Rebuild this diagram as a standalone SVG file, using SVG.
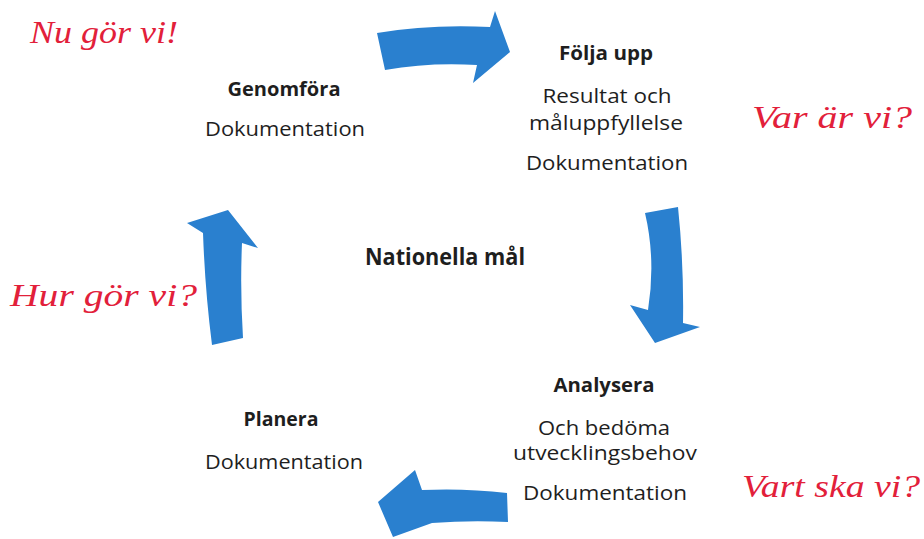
<svg xmlns="http://www.w3.org/2000/svg" width="924" height="539" viewBox="0 0 924 539">
<style>
.lbl{font-family:"Open Sans","Liberation Sans",sans-serif;font-size:20px;fill:#1e1e1e;text-anchor:middle}
.b{font-weight:bold}
.red{font-family:"Liberation Serif",serif;font-style:italic;font-size:32px;fill:#e2203a}
.arr{fill:#2a80cf}
</style>
<rect width="924" height="539" fill="#fff"/>
<g id="connectors">
<path class="arr" d="M377,33 Q430,24 490,27 L495,11 L510,52 L473,83 L477,65 Q430,62 385,70 Z"/>
<path class="arr" d="M645,213 L678,207 Q684,265 683,323 L700,327 L655,343 L630,305 L648,310 Q656,260 645,213 Z"/>
<path class="arr" d="M507,493 L508,522 Q470,520 432,523 L393,537 L378,502 L415,470 L422,490 Q465,488 507,493 Z"/>
<path class="arr" d="M228,210 L258,248 L242,243 Q240,290 243,338 L212,345 Q205,290 203,233 L187,223 Z"/>
</g>
<g id="genomfora">
<text class="lbl b" x="284" y="96" textLength="113" lengthAdjust="spacingAndGlyphs">Genomföra</text>
<text class="lbl" x="285" y="136" textLength="160" lengthAdjust="spacingAndGlyphs">Dokumentation</text>
</g>
<g id="folja">
<text class="lbl b" x="606" y="60" textLength="94" lengthAdjust="spacingAndGlyphs">Följa upp</text>
<text class="lbl" x="607" y="103" textLength="129" lengthAdjust="spacingAndGlyphs">Resultat och</text>
<text class="lbl" x="606" y="130" textLength="154" lengthAdjust="spacingAndGlyphs">måluppfyllelse</text>
<text class="lbl" x="607" y="170" textLength="162" lengthAdjust="spacingAndGlyphs">Dokumentation</text>
</g>
<g id="center">
<text class="lbl" x="445" y="265" textLength="160" lengthAdjust="spacingAndGlyphs" style="font-size:23px;font-weight:bold">Nationella mål</text>
</g>
<g id="analysera">
<text class="lbl b" x="604" y="392" textLength="101" lengthAdjust="spacingAndGlyphs">Analysera</text>
<text class="lbl" x="604" y="435" textLength="132" lengthAdjust="spacingAndGlyphs">Och bedöma</text>
<text class="lbl" x="605" y="460" textLength="184" lengthAdjust="spacingAndGlyphs">utvecklingsbehov</text>
<text class="lbl" x="605" y="500" textLength="164" lengthAdjust="spacingAndGlyphs">Dokumentation</text>
</g>
<g id="planera">
<text class="lbl b" x="281" y="426" textLength="75" lengthAdjust="spacingAndGlyphs">Planera</text>
<text class="lbl" x="284" y="469" textLength="158" lengthAdjust="spacingAndGlyphs">Dokumentation</text>
</g>
<g id="questions">
<text class="red" x="30" y="43" textLength="148" lengthAdjust="spacingAndGlyphs">Nu gör vi!</text>
<text class="red" x="752" y="128" textLength="160" lengthAdjust="spacingAndGlyphs">Var är vi?</text>
<text class="red" x="10" y="306" textLength="187" lengthAdjust="spacingAndGlyphs">Hur gör vi?</text>
<text class="red" x="742" y="497" textLength="178" lengthAdjust="spacingAndGlyphs">Vart ska vi?</text>
</g>
</svg>
